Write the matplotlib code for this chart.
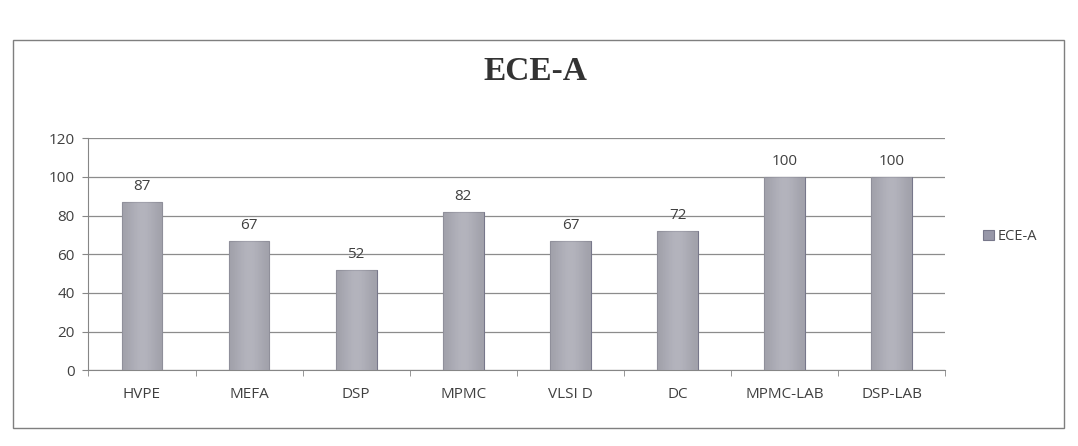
import numpy as np
import matplotlib.pyplot as plt
from matplotlib.patches import Rectangle

subjects = ['HVPE', 'MEFA', 'DSP', 'MPMC', 'VLSI D', 'DC', 'MPMC-LAB', 'DSP-LAB']
pass_pct = [87, 67, 52, 82, 67, 72, 100, 100]
series_name = 'ECE-A'

fig = plt.figure(figsize=(10.78, 4.46), dpi=100)
fig.patch.set_facecolor('white')

# chart area border like the excel box
fig.patches.append(Rectangle((0.012, 0.04), 0.975, 0.87, transform=fig.transFigure,
                             fill=False, edgecolor='#7f7f7f', linewidth=1.0))

ax = fig.add_axes([0.082, 0.17, 0.795, 0.52])
x = np.arange(len(subjects))
bars = ax.bar(x, pass_pct, width=0.38, color='#9797a8', edgecolor='#77778a',
              linewidth=0.8, zorder=3, label=series_name)

# soft horizontal shading on each bar
shade = np.array([[0.0, 0.6, 1.0, 0.6, 0.0]])
for b in bars:
    bx, by = b.get_x(), b.get_y()
    im = ax.imshow(shade, cmap='Greys_r', vmin=-3, vmax=2.2, aspect='auto',
                   extent=(bx, bx + b.get_width(), by, by + b.get_height()),
                   zorder=3.5, interpolation='bicubic', alpha=0.45)
    im.set_clip_path(b)

for xi, v in zip(x, pass_pct):
    ax.text(xi, v + 4, str(v), ha='center', va='bottom', fontsize=11,
            color='#404040', family='Open Sans')

ax.set_xlim(-0.5, len(subjects) - 0.5)
ax.set_ylim(0, 120)
ax.set_yticks(range(0, 121, 20))
ax.set_xticks(x)
ax.set_xticklabels(subjects)
ax.set_xticks(np.arange(-0.5, len(subjects), 1), minor=True)
ax.tick_params(axis='x', which='major', length=0, pad=12)
ax.tick_params(axis='x', which='minor', length=4, color='#868686')
ax.tick_params(axis='y', length=4, color='#868686', pad=6)
for lab in ax.get_xticklabels() + ax.get_yticklabels():
    lab.set_family('Open Sans')
    lab.set_fontsize(11)
    lab.set_color('#404040')

ax.grid(axis='y', color='#8c8c8c', linewidth=0.9, zorder=0)
ax.set_axisbelow(True)
for s in ['top', 'right']:
    ax.spines[s].set_visible(False)
ax.spines['left'].set_color('#868686')
ax.spines['bottom'].set_color('#868686')

fig.text(0.497, 0.84, 'ECE-A', ha='center', va='center', fontsize=24,
         fontweight='bold', family='Liberation Serif', color='#333333')

leg = fig.legend(handles=[bars], labels=[series_name], loc='center left',
                 bbox_to_anchor=(0.9, 0.47), frameon=False, handlelength=0.7,
                 handleheight=0.7, handletextpad=0.3,
                 prop={'family': 'Open Sans', 'size': 10.5})
for t in leg.get_texts():
    t.set_color('#404040')

fig.savefig('out.png', dpi=100)
